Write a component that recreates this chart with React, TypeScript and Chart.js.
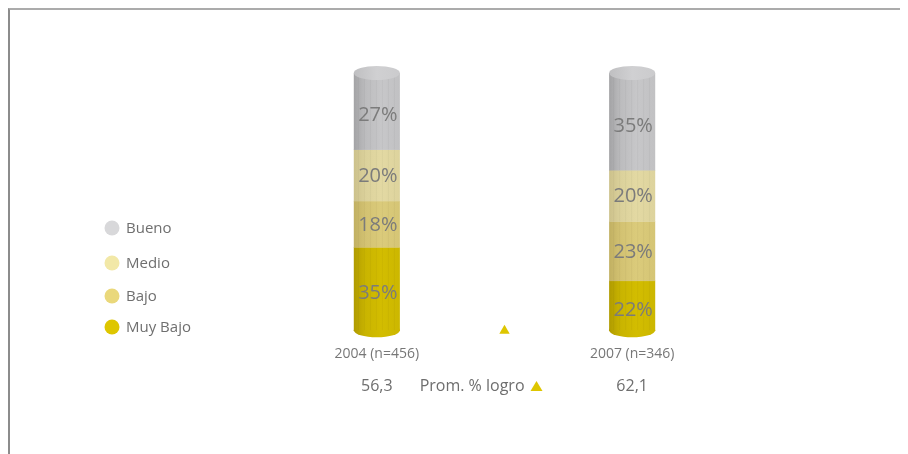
import { useEffect, useRef } from 'react';
import { Chart, registerables } from 'chart.js';

Chart.register(...registerables);

// ---------- data ----------
const categories = ['2004 (n=456)', '', '2007 (n=346)'];
const seriesNames = ['Muy Bajo', 'Bajo', 'Medio', 'Bueno'];
const muyBajo = [35, null, 22];
const bajo = [18, null, 23];
const medio = [20, null, 20];
const bueno = [27, null, 35];
const promLabel = 'Prom. % logro';
const promedio = [56.3, null, 62.1];
const promMarker = [null, 2.5, null];

// ---------- styles ----------
const FONT = '"Open Sans", "Noto Sans", sans-serif';
const legendColors = ['#dec600', '#ead87b', '#f2e8a7', '#d8d8da'];
const sideStops = [
  ['#b09b00', '#c9b400', '#d3bd00', '#ccb700'],
  ['#c1b062', '#d3c272', '#dbcb7b', '#d5c575'],
  ['#ccc18b', '#dbd19b', '#e3d9a3', '#ddd39d'],
  ['#a3a3a5', '#bcbcbe', '#c7c7c9', '#c1c1c3'],
];
const capColor = '#d0d0d2';
const RY = 7;

const cylinderPlugin = {
  id: 'cylinders',
  beforeDatasetDraw(chart: any, args: any) {
    const meta = chart.getDatasetMeta(args.index);
    if (meta.type === 'bar') return false;
    return true;
  },
  afterDatasetsDraw(chart: any) {
    const ctx = chart.ctx;
    const barMetas: any[] = [];
    chart.data.datasets.forEach((_: any, i: number) => {
      const m = chart.getDatasetMeta(i);
      if (m.type === 'bar') barMetas.push({ meta: m, idx: i });
    });
    const n = chart.data.labels.length;
    for (let j = 0; j < n; j++) {
      const segs = barMetas
        .map((b, k) => ({ b, k }))
        .filter(({ b }) => chart.data.datasets[b.idx].data[j] != null);
      segs.forEach(({ b, k }, s) => {
        const el = b.meta.data[j];
        const { x, y, base, width } = el.getProps(['x', 'y', 'base', 'width'], true);
        const left = x - width / 2;
        const g = ctx.createLinearGradient(left, 0, left + width, 0);
        const st = sideStops[k];
        g.addColorStop(0, st[0]);
        g.addColorStop(0.25, st[1]);
        g.addColorStop(0.6, st[2]);
        g.addColorStop(1, st[3]);
        const isFirst = s === 0;
        const isLast = s === segs.length - 1;
        const bottom = isFirst ? base - RY : base;
        const top = isLast ? y - RY : y;
        ctx.save();
        ctx.fillStyle = g;
        if (isFirst) {
          ctx.beginPath();
          ctx.ellipse(x, base - RY, width / 2, RY, 0, 0, Math.PI * 2);
          ctx.fill();
        }
        ctx.fillRect(left, top, width, bottom - top + 0.5);
        // faint vertical stripes
        ctx.globalAlpha = 0.035;
        ctx.fillStyle = '#000';
        for (let sx = left + 4; sx < left + width - 2; sx += 6) {
          ctx.fillRect(sx, top, 1, bottom - top);
        }
        ctx.globalAlpha = 1;
        if (isLast) {
          const cg = ctx.createLinearGradient(left, 0, left + width, 0);
          cg.addColorStop(0, '#bfbfc1');
          cg.addColorStop(0.5, capColor);
          cg.addColorStop(1, '#cbcbcd');
          ctx.fillStyle = cg;
          ctx.beginPath();
          ctx.ellipse(x, y - RY, width / 2, RY, 0, 0, Math.PI * 2);
          ctx.fill();
        }
        // value label
        const v = chart.data.datasets[b.idx].data[j];
        ctx.fillStyle = '#7b7b7b';
        ctx.font = `20px ${FONT}`;
        ctx.textAlign = 'center';
        ctx.textBaseline = 'middle';
        ctx.fillText(`${v}%`, x + 1, (y + base) / 2 + 1);
        ctx.restore();
      });
    }

    // promedio row
    const xs = chart.scales.x;
    const rowY = 376;
    ctx.save();
    ctx.fillStyle = '#6e6e6e';
    ctx.font = `16px ${FONT}`;
    ctx.textBaseline = 'middle';
    ctx.textAlign = 'center';
    promedio.forEach((p, i) => {
      if (p == null) return;
      ctx.fillText(p.toFixed(1).replace('.', ','), xs.getPixelForValue(i), rowY);
    });
    const mid = xs.getPixelForValue(1);
    ctx.textAlign = 'right';
    ctx.fillText(promLabel, mid + 20, rowY);
    ctx.fillStyle = legendColors[0];
    ctx.beginPath();
    ctx.moveTo(mid + 26, rowY + 5);
    ctx.lineTo(mid + 38, rowY + 5);
    ctx.lineTo(mid + 32, rowY - 5);
    ctx.closePath();
    ctx.fill();
    ctx.restore();

    // legend
    ctx.save();
    ctx.font = `15px ${FONT}`;
    ctx.textBaseline = 'middle';
    ctx.textAlign = 'left';
    const order = [3, 2, 1, 0];
    const rows = [218, 253, 286, 317];
    order.forEach((k, r) => {
      const cy = rows[r];
      ctx.fillStyle = legendColors[k];
      ctx.beginPath();
      ctx.arc(102, cy, 7.5, 0, Math.PI * 2);
      ctx.fill();
      ctx.fillStyle = '#6f6f6f';
      ctx.fillText(seriesNames[k], 116, cy + 1);
    });
    ctx.restore();
  },
};

export default function App() {
  const ref = useRef<HTMLCanvasElement | null>(null);
  useEffect(() => {
    document.documentElement.style.overflow = 'hidden';
    const canvas = ref.current;
    if (!canvas) return;
    const values = [muyBajo, bajo, medio, bueno];
    const chart = new Chart(canvas, {
      type: 'bar',
      data: {
        labels: categories,
        datasets: [
          ...values.map((d, k) => ({
            type: 'bar' as const,
            label: seriesNames[k],
            data: d,
            backgroundColor: legendColors[k],
            barPercentage: 0.361,
            categoryPercentage: 1,
          })),
          {
            type: 'line' as const,
            label: promLabel,
            data: promMarker,
            showLine: false,
            pointStyle: 'triangle',
            pointRadius: 6,
            pointBorderWidth: 0,
            backgroundColor: legendColors[0],
            borderColor: legendColors[0],
          },
        ],
      } as any,
      options: {
        responsive: false,
        animation: false,
        devicePixelRatio: 1,
        layout: { padding: { left: 303, right: 212, top: 70, bottom: 84 } },
        plugins: { legend: { display: false }, tooltip: { enabled: false } },
        scales: {
          x: {
            stacked: true,
            offset: true,
            grid: { display: false, drawTicks: false },
            border: { display: false },
            ticks: { color: '#777777', font: { family: FONT, size: 14 }, padding: 8 },
          },
          y: { stacked: true, display: false, min: 0, max: 100 },
        },
      } as any,
      plugins: [cylinderPlugin],
    });
    return () => chart.destroy();
  }, []);
  return (
    <div
      style={{
        width: 900,
        height: 446,
        boxSizing: 'border-box',
        borderTop: '2px solid #ababab',
        borderLeft: '2px solid #8c8c8c',
        background: '#fff',
      }}
    >
      <canvas ref={ref} width={898} height={444} style={{ display: 'block', width: 898, height: 444 }} />
    </div>
  );
}
